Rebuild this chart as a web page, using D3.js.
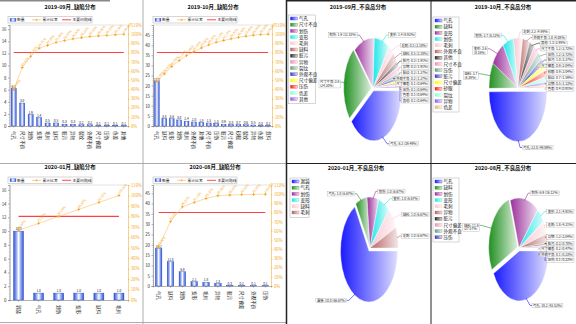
<!DOCTYPE html>
<html lang="zh">
<head>
<meta charset="UTF-8">
<script src="https://d3js.org/d3.v7.min.js"></script>
<style>
    body { margin: 0; background: #fff; }
    svg text { font-family: "Noto Sans CJK SC", "Noto Sans", sans-serif; }
</style>
</head>
<body>
<svg id="viz" width="576" height="324"></svg>
<script>
// ---- data ----
var cats1 = ["气孔","尺寸不良","划伤","变形","毛刺","缺料","脏污","异物","裂纹","外观不良","尺寸偏差","压伤","色差","其他"];
var vals1 = [6.2, 3.8, 1.9, 1.4, 0.5, 0.5, 0.3, 0.3, 0.2, 0.2, 0.1, 0.1, 0.1, 0.1];
var cats2 = ["气孔","缺料","变形","划伤","毛刺","外观不良","其他","尺寸不良","压伤","脏污","尺寸偏差","砂眼","裂纹","异物","色差","混料"];
var vals2 = [22, 3.8, 3.6, 3.0, 2.4, 2.0, 1.8, 1.5, 1.3, 0.9, 0.8, 0.7, 0.6, 0.5, 0.3, 0.2];
var cats3 = ["漏装","气孔","划伤","变形","缺料","毛刺"];
var vals3 = [10, 1, 1, 1, 1, 1];
var cats4 = ["气孔","缺料","划伤","变形","毛刺","异物","脏污","尺寸偏差","外观不良","压伤"];
var vals4 = [18.2, 11.8, 6.9, 2.1, 1.8, 1.3, 0.3, 0.2, 0.1, 0.1];
var pieCats2 = ["气孔","缺料","变形","划伤","毛刺","外观不良","其他","尺寸不良","压伤","脏污","尺寸偏差","砂眼","裂纹","异物","色差"];
var pieVals2 = [22, 3.7, 3.6, 2.7, 2.2, 1.8, 1.3, 1.2, 1.2, 1.0, 0.9, 0.9, 0.7, 0.5, 0.4];

var ticks16 = [0, 2, 4, 6, 8, 10, 12, 14, 16];
var ticks45 = [0, 5, 10, 15, 20, 25, 30, 35, 40, 45];
var pctTicks = [0, 0.1, 0.2, 0.3, 0.4, 0.5, 0.6, 0.7, 0.8, 0.9, 1.0, 1.1];
var legendNames = ["数量", "累计比率", "主要问题线"];
var pieColors = ["#1a1aff","#1f8f1f","#9a2f9a","#19e6e6","#f7c6cf","#b86464","#2a2a2a","#ea8fb0","#5e9e7e","#3a3ab8","#ffff00","#ff1a1a","#7fffd4","#9155ee","#deb887"];

var svg = d3.select("#viz");
var defs = svg.append("defs");
var FONT = "Noto Sans CJK SC";

// bar gradient
var bg = defs.append("linearGradient").attr("id", "barGrad").attr("x1", 0).attr("x2", 1).attr("y1", 0).attr("y2", 0);
[["0%","#2f52d0"],["30%","#9db2f2"],["50%","#ffffff"],["70%","#9db2f2"],["100%","#2f52d0"]].forEach(function(s) {
    bg.append("stop").attr("offset", s[0]).attr("stop-color", s[1]);
});
// pie gradients
pieColors.forEach(function(c, i) {
    var gr = defs.append("linearGradient").attr("id", "pg" + i).attr("x1", 0).attr("x2", 1).attr("y1", 0).attr("y2", 0);
    gr.append("stop").attr("offset", "0%").attr("stop-color", c);
    gr.append("stop").attr("offset", "100%").attr("stop-color", d3.interpolateRgb(c, "#fff")(0.85));
});

svg.append("rect").attr("width", 576).attr("height", 324).attr("fill", "#fff");

// ---- frames ----
svg.append("line").attr("x1", 0).attr("x2", 110).attr("y1", 0.8).attr("y2", 0.8).attr("stroke", "#888").attr("stroke-width", 1.6);
svg.append("line").attr("x1", 143).attr("x2", 143).attr("y1", 0).attr("y2", 324).attr("stroke", "#999").attr("stroke-width", 0.8);
svg.append("line").attr("x1", 0).attr("x2", 286).attr("y1", 163.5).attr("y2", 163.5).attr("stroke", "#999").attr("stroke-width", 0.8);
svg.append("line").attr("x1", 0).attr("x2", 286).attr("y1", 322.5).attr("y2", 322.5).attr("stroke", "#999").attr("stroke-width", 0.8);
svg.append("line").attr("x1", 286.5).attr("x2", 286.5).attr("y1", 0).attr("y2", 324).attr("stroke", "#222").attr("stroke-width", 1.5);
svg.append("line").attr("x1", 431).attr("x2", 431).attr("y1", 0).attr("y2", 324).attr("stroke", "#222").attr("stroke-width", 1);
svg.append("line").attr("x1", 286).attr("x2", 576).attr("y1", 0.7).attr("y2", 0.7).attr("stroke", "#222").attr("stroke-width", 1.4);
svg.append("line").attr("x1", 286).attr("x2", 576).attr("y1", 163.5).attr("y2", 163.5).attr("stroke", "#222").attr("stroke-width", 1.2);

// ---- pareto ----
function pareto(o) {
    var g = svg.append("g");
    var x = d3.scaleBand().domain(o.cats).range([o.left, o.right]).paddingInner(o.pad).paddingOuter(0.2);
    var y = d3.scaleLinear().domain([0, o.yMax]).range([o.bottom, o.top]);
    var yp = d3.scaleLinear().domain([0, 1.1]).range([o.bottom, o.top]);
    var total = d3.sum(o.vals);
    var run = 0;
    var cum = o.vals.map(function(v) { run += v; return run / total; });
    var cx = function(c) { return x(c) + x.bandwidth() / 2; };

    g.append("text").attr("x", o.tx).attr("y", o.ty).attr("text-anchor", "middle")
        .attr("font-size", 5.4).attr("font-weight", "bold").attr("fill", "#111").text(o.title);

    // legend
    var lg = g.append("g").attr("transform", "translate(" + o.lx + "," + o.ly + ")");
    lg.append("rect").attr("width", 84).attr("height", 6.5).attr("fill", "#fff").attr("stroke", "#999").attr("stroke-width", 0.4);
    lg.append("rect").attr("x", 2).attr("y", 1.8).attr("width", 6).attr("height", 3).attr("fill", "url(#barGrad)").attr("stroke", "#2f52d0").attr("stroke-width", 0.3);
    lg.append("line").attr("x1", 24).attr("x2", 33).attr("y1", 3.3).attr("y2", 3.3).attr("stroke", "#fbb040").attr("stroke-width", 0.6);
    lg.append("path").attr("d", d3.symbol(d3.symbolCross, 3)()).attr("transform", "translate(28.5,3.3)").attr("fill", "#fbb040");
    lg.append("line").attr("x1", 54).attr("x2", 63).attr("y1", 3.3).attr("y2", 3.3).attr("stroke", "#ff4b4b").attr("stroke-width", 1);
    [9, 34.5, 64.5].forEach(function(px, i) {
        lg.append("text").attr("x", px).attr("y", 4.8).attr("font-size", 3.8).attr("fill", "#222").text(legendNames[i]);
    });

    // axes
    var yl = g.append("g").attr("transform", "translate(" + o.left + ",0)")
        .call(d3.axisLeft(y).tickValues(o.ticks).tickSize(1.5).tickPadding(1.5));
    yl.selectAll("text").attr("font-size", 4.4).attr("fill", "#333").attr("font-family", FONT);
    yl.selectAll("line, path").attr("stroke", "#666").attr("stroke-width", 0.5);
    g.append("g").attr("transform", "translate(" + o.left + ",0)")
        .call(d3.axisLeft(y).ticks(o.ticks.length * 4).tickSize(0.8).tickFormat(""))
        .selectAll("line, path").attr("stroke", "#888").attr("stroke-width", 0.3);

    var yr = g.append("g").attr("transform", "translate(" + o.right + ",0)")
        .call(d3.axisRight(yp).tickValues(pctTicks).tickFormat(d3.format(".0%")).tickSize(1.5).tickPadding(1.5));
    yr.selectAll("text").attr("font-size", 4.2).attr("fill", "#f5a623").attr("font-family", FONT);
    yr.selectAll("line, path").attr("stroke", "#f5b041").attr("stroke-width", 0.6);

    g.append("line").attr("x1", o.left).attr("x2", o.right).attr("y1", o.top).attr("y2", o.top)
        .attr("stroke", "#bbb").attr("stroke-width", 0.4);

    var xa = g.append("g").attr("transform", "translate(0," + o.bottom + ")")
        .call(d3.axisBottom(x).tickSize(1.5).tickFormat(""));
    xa.selectAll("line, path").attr("stroke", "#666").attr("stroke-width", 0.5);
    g.selectAll(".xl").data(o.cats).enter().append("text")
        .attr("transform", function(d) { return "translate(" + (cx(d) - 1.6) + "," + (o.bottom + 5) + ") rotate(90)"; })
        .attr("font-size", 4.6).attr("fill", "#222").text(function(d) { return d; });

    // bars
    g.selectAll(".bar").data(o.vals).enter().append("rect")
        .attr("x", function(d, i) { return x(o.cats[i]); })
        .attr("y", function(d) { return y(d); })
        .attr("width", x.bandwidth())
        .attr("height", function(d) { return o.bottom - y(d); })
        .attr("fill", "url(#barGrad)").attr("stroke", "#2a48c0").attr("stroke-width", 0.4);
    g.selectAll(".bl").data(o.vals).enter().append("text")
        .attr("x", function(d, i) { return cx(o.cats[i]); })
        .attr("y", function(d) { return y(d) - 0.8; })
        .attr("text-anchor", "middle").attr("font-size", 3.2).attr("fill", "#222")
        .text(function(d) { return d3.format(".1f")(d); });

    // 80% line
    g.append("line").attr("x1", cx(o.cats[0])).attr("x2", cx(o.cats[o.cats.length - 1]))
        .attr("y1", yp(0.8)).attr("y2", yp(0.8)).attr("stroke", "#ff4040").attr("stroke-width", 1.1);

    // cumulative line
    var line = d3.line().x(function(d, i) { return cx(o.cats[i]); }).y(function(d) { return yp(d); });
    g.append("path").datum(cum).attr("d", line).attr("fill", "none").attr("stroke", "#fbc060").attr("stroke-width", 0.6);
    g.selectAll(".cm").data(cum).enter().append("path")
        .attr("d", d3.symbol(d3.symbolCross, 4)())
        .attr("transform", function(d, i) { return "translate(" + cx(o.cats[i]) + "," + yp(d) + ")"; })
        .attr("fill", "#f5a623");
    g.selectAll(".cl").data(cum).enter().append("text")
        .attr("transform", function(d, i) { return "translate(" + (cx(o.cats[i]) + 0.5) + "," + (yp(d) - 1) + ") rotate(-50)"; })
        .attr("font-size", 3.2).attr("fill", "#f5a623")
        .text(function(d) { return d3.format(".2%")(d); });
}

pareto({cats: cats1, vals: vals1, ticks: ticks16, yMax: 16.7, pad: 0.4, left: 9.5, right: 128, top: 25, bottom: 126,
    title: "2019-09月_缺陷分布", tx: 70, ty: 9, lx: 8, ly: 16.5});
pareto({cats: cats2, vals: vals2, ticks: ticks45, yMax: 50, pad: 0.35, left: 153, right: 272, top: 25, bottom: 126,
    title: "2019-10月_缺陷分布", tx: 213, ty: 9, lx: 153, ly: 16.5});
pareto({cats: cats3, vals: vals3, ticks: ticks16, yMax: 16.7, pad: 0.5, left: 9.5, right: 128, top: 185, bottom: 300,
    title: "2020-01月_缺陷分布", tx: 70, ty: 169, lx: 8, ly: 177});
pareto({cats: cats4, vals: vals4, ticks: ticks45, yMax: 49, pad: 0.45, left: 153, right: 271, top: 185, bottom: 286,
    title: "2020-08月_缺陷分布", tx: 215, ty: 169, lx: 153, ly: 177});

// ---- pies ----
function pie(o) {
    var g = svg.append("g");
    var total = d3.sum(o.vals);
    var arcs = d3.pie().sort(null).startAngle(Math.PI / 2).endAngle(Math.PI / 2 + 2 * Math.PI)(o.vals);
    var sx = o.rx / o.ry;
    var arc = d3.arc().innerRadius(0).outerRadius(o.ry);

    g.append("text").attr("x", o.tx).attr("y", o.ty).attr("text-anchor", "middle")
        .attr("font-size", 5.4).attr("font-weight", "bold").attr("fill", "#111").text(o.title);

    // legend
    var rowH = 6.2;
    var lg = g.append("g").attr("transform", "translate(" + o.lx + "," + o.ly + ")");
    lg.append("rect").attr("width", o.lw).attr("height", o.cats.length * rowH + 2).attr("fill", "#fff")
        .attr("stroke", "#999").attr("stroke-width", 0.4);
    o.cats.forEach(function(c, i) {
        lg.append("rect").attr("x", 2).attr("y", 2 + i * rowH).attr("width", 7).attr("height", 3)
            .attr("fill", "url(#pg" + i + ")").attr("stroke", pieColors[i]).attr("stroke-width", 0.3);
        lg.append("text").attr("x", 10.5).attr("y", 5.2 + i * rowH).attr("font-size", 4.6).attr("fill", "#222").text(c);
    });

    var pg = g.append("g").attr("transform", "translate(" + o.cx + "," + o.cy + ")");
    var limR = o.panelR - o.cx - 2, limL = o.panelL - o.cx + 2;
    var items = [];
    arcs.forEach(function(a, i) {
        var mid = (a.startAngle + a.endAngle) / 2;
        var off = o.explode[i] || 0;
        var dx = Math.sin(mid) * off * sx, dy = -Math.cos(mid) * off;
        pg.append("path").attr("d", arc(a))
            .attr("transform", "translate(" + dx + "," + dy + ") scale(" + sx + ",1)")
            .attr("fill", "url(#pg" + i + ")").attr("stroke", "#fff").attr("stroke-width", 0.4)
            .attr("vector-effect", "non-scaling-stroke");
        var side = Math.sin(mid) >= 0 ? 1 : -1;
        items.push({i: i, side: side,
            ex: dx + Math.sin(mid) * o.rx * 0.97, ey: dy - Math.cos(mid) * o.ry * 0.97,
            lx: dx + Math.sin(mid) * (o.rx + 8) + side * 4, ly: dy - Math.cos(mid) * (o.ry + 6),
            l1: o.cats[i] + ": " + d3.format(".1f")(a.value),
            l2: "(" + d3.format(".2%")(a.value / total) + ")"});
    });

    // measure labels, wrap left-side ones that do not fit
    var lbl = pg.append("g");
    items.forEach(function(d) {
        d.t = lbl.append("text").attr("font-size", 3.3).attr("fill", "#222").text(d.l1 + " " + d.l2);
        d.w = d.t.node().getComputedTextLength();
        d.h = 4.4;
        if (d.side < 0 && d.w + 2 > d.lx - limL) {
            d.t.text("");
            var s1 = d.t.append("tspan").text(d.l1);
            var s2 = d.t.append("tspan").attr("dy", 3.6).text(d.l2);
            d.w = Math.max(s1.node().getComputedTextLength(), s2.node().getComputedTextLength());
            d.h = 8;
        }
    });
    [1, -1].forEach(function(s) {
        var list = items.filter(function(d) { return d.side === s; }).sort(function(a, b) { return a.ly - b.ly; });
        for (var k = 1; k < list.length; k++) {
            var minY = list[k - 1].ly + list[k - 1].h + 1.2;
            if (list[k].ly < minY) list[k].ly = minY;
        }
    });
    items.forEach(function(d) {
        var bx = d.side > 0 ? d.lx : d.lx - d.w - 2;
        if (bx + d.w + 2 > limR) bx = limR - d.w - 2;
        if (bx < limL) bx = limL;
        d.t.attr("x", bx + 1).attr("y", d.ly + 1.2);
        d.t.selectAll("tspan").attr("x", bx + 1);
        lbl.insert("rect", "text").attr("x", bx).attr("y", d.ly - 2.2).attr("width", d.w + 2).attr("height", d.h)
            .attr("fill", "#fff").attr("stroke", "#999").attr("stroke-width", 0.3);
        var ax = d.side > 0 ? bx : bx + d.w + 2;
        pg.insert("polyline", "g").attr("points", [d.ex, d.ey, ax - d.side * 2, d.ly, ax, d.ly].join(","))
            .attr("fill", "none").attr("stroke", pieColors[d.i]).attr("stroke-width", 0.6);
    });
}

pie({cats: cats1, vals: vals1, cx: 373, cy: 88, rx: 28, ry: 50, explode: [3, 2.5], title: "2019-09月_不良品分布",
    tx: 358, ty: 9, lx: 288.5, ly: 15, lw: 27, panelL: 317, panelR: 431});
pie({cats: pieCats2, vals: pieVals2, cx: 518, cy: 88, rx: 29, ry: 50, explode: [3.5], title: "2019-10月_不良品分布",
    tx: 503, ty: 9, lx: 433, ly: 17, lw: 26, panelL: 460, panelR: 576});
pie({cats: cats3, vals: vals3, cx: 370, cy: 248, rx: 28.5, ry: 51, explode: [3.5], title: "2020-01月_不良品分布",
    tx: 356, ty: 170, lx: 290, ly: 178, lw: 19, panelL: 310, panelR: 431});
pie({cats: cats4, vals: vals4, cx: 519, cy: 248, rx: 29, ry: 50, explode: [3, 2.5], title: "2020-08月_不良品分布",
    tx: 503, ty: 170, lx: 433, ly: 178, lw: 26, panelL: 460, panelR: 576});
</script>
</body>
</html>
